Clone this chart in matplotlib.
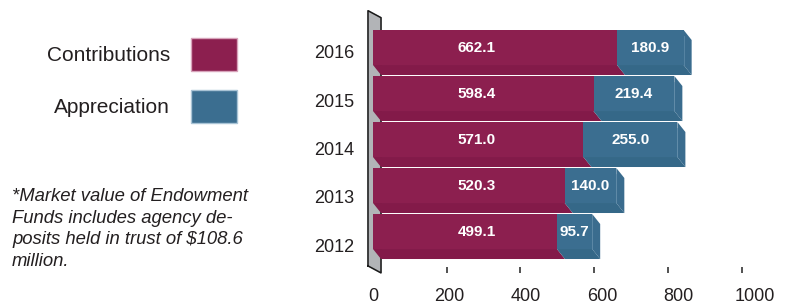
import matplotlib.pyplot as plt
from matplotlib.patches import Patch

plt.rcParams['font.family'] = ['Liberation Sans', 'DejaVu Sans']

# data
years = ['2012', '2013', '2014', '2015', '2016']
contributions = [499.1, 520.3, 571.0, 598.4, 662.1]
appreciation = [95.7, 140.0, 255.0, 219.4, 180.9]
x_ticks = [0, 200, 400, 600, 800, 1000]

red = '#8C1F4F'
red_dark = '#831A49'
blue = '#3B6E90'
blue_dark = '#356888'
blue_side = '#3A6C8E'
text_col = '#231F20'

W, H = 789, 307
fig = plt.figure(figsize=(W / 100, H / 100), dpi=100)

# pixel helpers
x0_px, scale = 373, 0.3685      # px of value 0, px per unit
bot_px = 267
pos = [x0_px / W, (H - bot_px) / H, (W - x0_px) / W, bot_px / H]

ax = fig.add_axes(pos)
ax.set_xlim(0, (W - x0_px) / scale)
pitch = 46.0
ax.set_ylim((236.5 - bot_px) / pitch, 236.5 / pitch)
for s in ax.spines.values():
    s.set_visible(False)
ax.set_yticks([])
ax.set_xticks(x_ticks)
ax.set_xticklabels([''] * len(x_ticks))
ax.tick_params(axis='x', length=4.3, width=1.1, color='#222222', direction='out')
ax.xaxis.get_major_ticks()[0].tick1line.set_visible(False)

half = 0.489
front_h = 35 / pitch
dy = 10 / pitch
dx = 8 / scale
rows = list(range(len(years)))
n = len(rows)

# back wall (gray panel at the value axis)
wl, wr = -5 / scale, dx
wall_top = n - 1 + half + 0.42
wall_bot = -half - 0.15
ax.fill([wl, wr, wr, wl], [wall_top, wall_top - dy * 0.7, wall_bot - dy * 0.7, wall_bot],
        color='#B2B4B7', zorder=1, clip_on=False)
ax.plot([wl, wl, wr, wr, wl], [wall_bot, wall_top, wall_top - dy * 0.7, wall_bot - dy * 0.7, wall_bot],
        color='#1A1A1A', lw=1.1, zorder=1.1, clip_on=False)

ycen = [r + half - front_h / 2 for r in rows]
ax.barh(ycen, contributions, height=front_h, color=red, zorder=3)
ax.barh(ycen, appreciation, left=contributions, height=front_h, color=blue, zorder=3)

for r, c, a in zip(rows, contributions, appreciation):
    yt = r + half
    yf = yt - front_h
    yb = yf - dy
    t = c + a
    # bottom faces
    ax.fill([0, c, c + dx, dx], [yf, yf, yb, yb], color=red_dark, zorder=2.5, lw=0)
    ax.fill([c, t, t + dx, c + dx], [yf, yf, yb, yb], color=blue_dark, zorder=2.5, lw=0)
    # right side face
    ax.fill([t, t + dx, t + dx, t], [yt, yt - dy, yb, yf], color=blue_side, zorder=2.6, lw=0)
    ax.plot([t, t], [yt - dy * 0.6, yf], color='#5B88A6', lw=0.6, zorder=2.7)
    # value labels
    ax.text(282, yt - front_h / 2, f'{c:.1f}', color='white', fontsize=11,
            fontweight='bold', ha='center', va='center', zorder=4)
    ax.text(c + a / 2, yt - front_h / 2, f'{a:.1f}', color='white', fontsize=11,
            fontweight='bold', ha='center', va='center', zorder=4)

# front-plane labels (slightly larger perspective scale)
lab = fig.add_axes(pos)
lab.patch.set_visible(False)
for s in lab.spines.values():
    s.set_visible(False)
lab.set_xlim(0, (W - x0_px) / 0.382)
lab_pitch = 48.25
lab.set_ylim((245 - bot_px) / lab_pitch, 245 / lab_pitch)
lab.set_xticks(x_ticks)
lab.set_xticklabels([str(v) for v in x_ticks])
lab.set_yticks(rows)
lab.set_yticklabels(years)
lab.tick_params(axis='x', length=0, pad=15, labelsize=13, labelcolor=text_col)
lab.tick_params(axis='y', length=0, pad=13.5, labelsize=13, labelcolor=text_col)

# legend
handles = [Patch(facecolor=red, edgecolor='#D7A3BA', lw=1),
           Patch(facecolor=blue, edgecolor='#A8C3D5', lw=1)]
fig.legend(handles, ['Contributions', 'Appreciation'], markerfirst=False, frameon=False,
           fontsize=15, handlelength=2.2, handleheight=2.05, handletextpad=1.0,
           labelspacing=0.92, loc='upper left', bbox_to_anchor=(47 / W, 1 - 38 / H),
           borderpad=0, borderaxespad=0, labelcolor=text_col)

# footnote
fig.text(12 / W, 1 - 229 / H,
         '*Market value of Endowment\nFunds includes agency de-\nposits held in trust of $108.6\nmillion.',
         fontsize=13.3, style='italic', color=text_col, va='center', ha='left', linespacing=1.34)

# cut-off subtitle at the very top
fig.text(10 / W, 1 + 3.5 / H, '(in millions of dollars)', fontsize=15, color=text_col,
         va='baseline', ha='left')

fig.savefig('out.png', dpi=100)
